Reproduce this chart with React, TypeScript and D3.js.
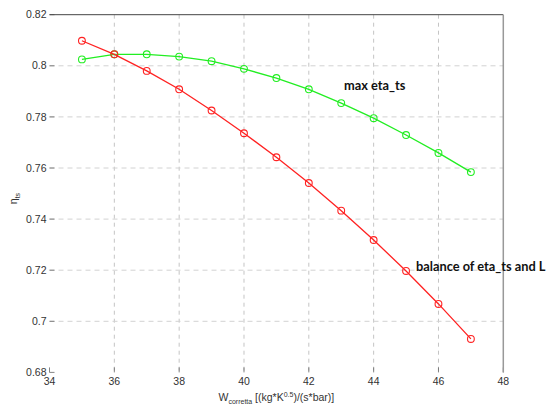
import React from "react";
import * as d3 from "d3";

const xValues = [35, 36, 37, 38, 39, 40, 41, 42, 43, 44, 45, 46, 47];
const balanceSeries = [0.8098, 0.8045, 0.798, 0.7908, 0.7825, 0.7736, 0.7642, 0.7541, 0.7433, 0.7318, 0.7197, 0.7068, 0.6931];
const maxEtaSeries = [0.8025, 0.8045, 0.8045, 0.8036, 0.8018, 0.7988, 0.7952, 0.7908, 0.7854, 0.7795, 0.7729, 0.7659, 0.7584];
const xTicks = [34, 36, 38, 40, 42, 44, 46, 48];
const yTicks = [0.68, 0.7, 0.72, 0.74, 0.76, 0.78, 0.8, 0.82];
const yTickLabels = ["0.68", "0.7", "0.72", "0.74", "0.76", "0.78", "0.8", "0.82"];

const W = 548;
const H = 408;
const left = 49.5;
const right = 503.3;
const top = 14.7;
const bottom = 372.4;

export default function App() {
  const x = d3.scaleLinear().domain([34, 48]).range([left, right]);
  const y = d3.scaleLinear().domain([0.68, 0.82]).range([bottom, top]);
  const line = d3
    .line<number>()
    .x((_, i) => x(xValues[i]))
    .y((d) => y(d));
  const font = "'Liberation Sans', Arial, sans-serif";
  const series = [
    { data: maxEtaSeries, color: "#22ee22" },
    { data: balanceSeries, color: "#ff2222" },
  ];
  return (
    <svg
      width={W}
      height={H}
      style={{ position: "absolute", left: 0, top: 0, background: "#fff" }}
    >
      <rect x={0} y={0} width={W} height={H} fill="#fff" />
      {/* grid */}
      {xTicks.slice(1, -1).map((t) => (
        <line
          key={"gx" + t}
          x1={x(t)}
          x2={x(t)}
          y1={top}
          y2={bottom}
          stroke="#c4c4c4"
          strokeDasharray="4,4"
          strokeWidth={1}
        />
      ))}
      {yTicks.slice(1, -1).map((t) => (
        <line
          key={"gy" + t}
          x1={left}
          x2={right}
          y1={y(t)}
          y2={y(t)}
          stroke="#d2d2d2"
          strokeDasharray="5,4"
          strokeWidth={1}
        />
      ))}
      {/* ticks */}
      {yTicks.map((t) => (
        <line key={"ty" + t} x1={left} x2={left + 5} y1={y(t)} y2={y(t)} stroke="#666" strokeWidth={0.8} />
      ))}
      {xTicks.map((t) => (
        <line key={"tx" + t} x1={x(t)} x2={x(t)} y1={bottom} y2={bottom - 5} stroke="#666" strokeWidth={0.8} />
      ))}
      {/* borders */}
      <line x1={left} x2={right} y1={top} y2={top} stroke="#444" strokeWidth={1} />
      <line x1={right} x2={right} y1={top} y2={bottom} stroke="#999" strokeWidth={1.5} />
      {/* tick labels */}
      {yTicks.map((t, i) => (
        <text
          key={"ly" + t}
          x={left - 3}
          y={y(t)}
          dy="0.35em"
          textAnchor="end"
          fontFamily={font}
          fontSize={10.5}
          fill="#333"
        >
          {yTickLabels[i]}
        </text>
      ))}
      {xTicks.map((t) => (
        <text
          key={"lx" + t}
          x={x(t)}
          y={bottom + 13}
          textAnchor="middle"
          fontFamily={font}
          fontSize={10.5}
          fill="#333"
        >
          {t}
        </text>
      ))}
      {/* series */}
      {series.map((s, si) => (
        <g key={"s" + si}>
          <path d={line(s.data) || ""} fill="none" stroke={s.color} strokeWidth={1.3} />
          {s.data.map((v, i) => (
            <circle
              key={i}
              cx={x(xValues[i])}
              cy={y(v)}
              r={3.4}
              fill="none"
              stroke={s.color}
              strokeWidth={1.1}
            />
          ))}
        </g>
      ))}
      {/* annotations */}
      <text x={344} y={90} fontFamily="Lato, 'Open Sans', sans-serif" fontWeight="bold" fontSize={12.8} fill="#111">
        max eta_ts
      </text>
      <text x={416} y={271} fontFamily="Lato, 'Open Sans', sans-serif" fontWeight="bold" fontSize={12.8} fill="#111">
        balance of eta_ts and L
      </text>
      {/* axis labels */}
      <text
        transform={`translate(17, ${(top + bottom) / 2 + 5}) rotate(-90)`}
        textAnchor="middle"
        fontFamily={font}
        fontSize={10.5}
        fill="#333"
      >
        η<tspan fontSize={7} dy={3}>ts</tspan>
      </text>
      <text x={(left + right) / 2} y={401} textAnchor="middle" fontFamily={font} fontSize={10.5} fill="#333">
        W<tspan fontSize={7} dy={3}>corretta</tspan>
        <tspan dy={-3}> [(kg*K</tspan>
        <tspan fontSize={7} dy={-4}>0.5</tspan>
        <tspan dy={4}>)/(s*bar)]</tspan>
      </text>
    </svg>
  );
}
